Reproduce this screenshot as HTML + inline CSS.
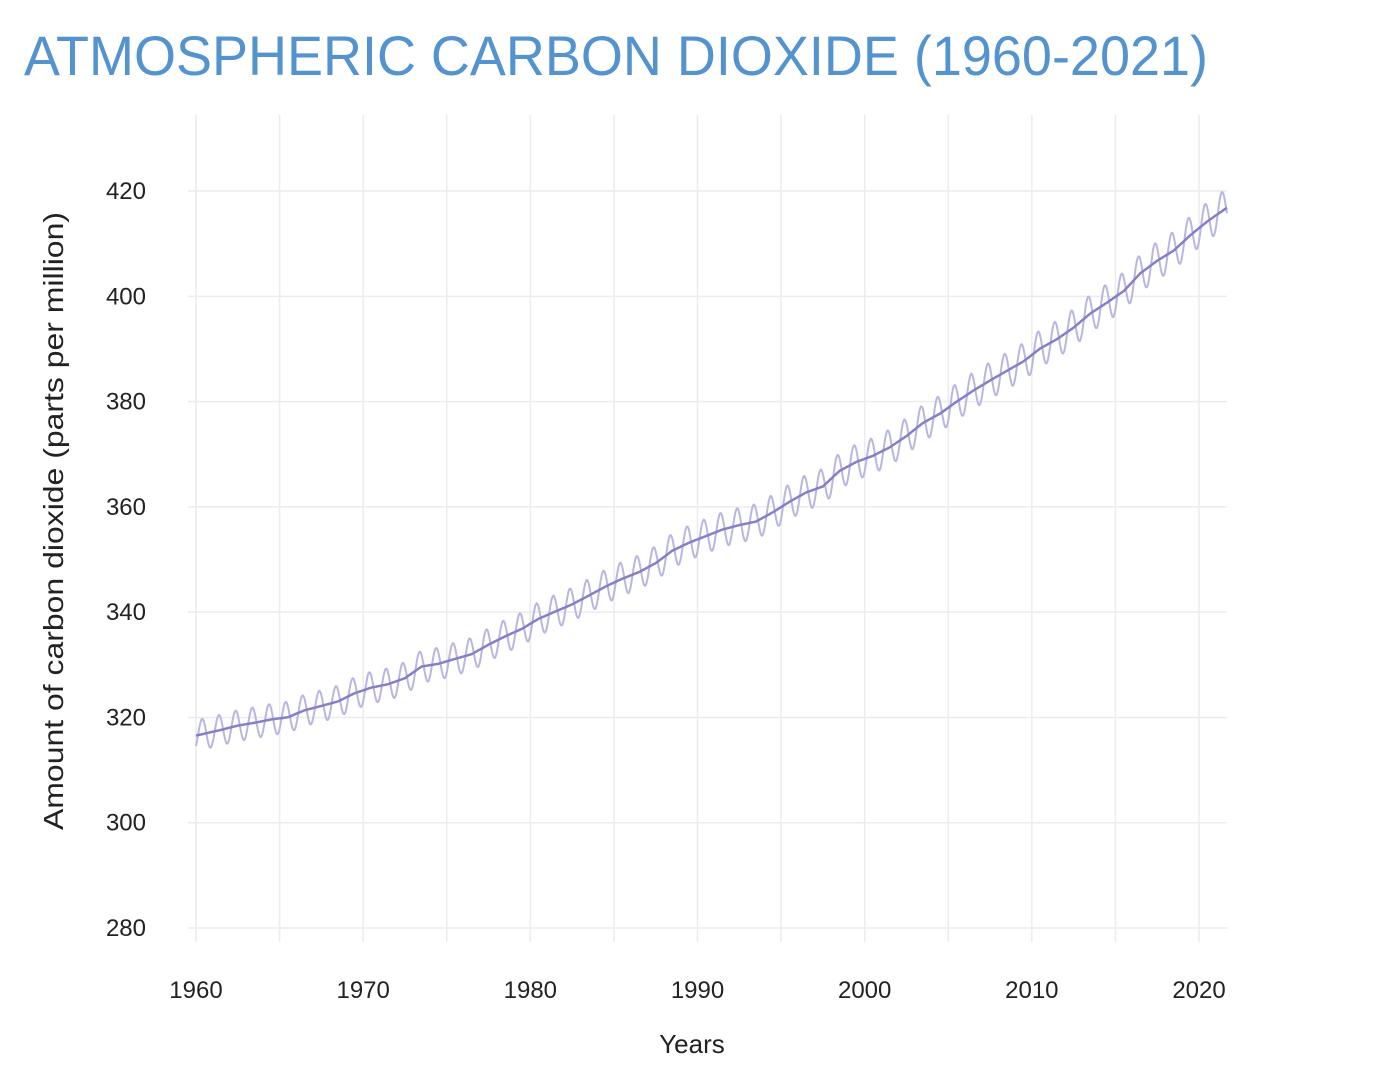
<!DOCTYPE html>
<html><head><meta charset="utf-8">
<style>
body{margin:0;background:#fff;width:1374px;height:1082px;overflow:hidden}
svg{display:block}
text{font-family:"Liberation Sans",sans-serif}
</style></head>
<body>
<svg id="s" width="1374" height="1082" xmlns="http://www.w3.org/2000/svg">
<text x="24" y="75" font-size="56" fill="#5393cf" textLength="1184" lengthAdjust="spacingAndGlyphs">ATMOSPHERIC CARBON DIOXIDE (1960-2021)</text>
<g id="grid" stroke="#ececec" stroke-width="1.5"></g>
<g id="labels" font-size="24" fill="#222"></g>
<text x="692" y="1053" font-size="26" fill="#222" text-anchor="middle">Years</text>
<text transform="translate(63,521) rotate(-90)" font-size="28" fill="#222" text-anchor="middle" textLength="618" lengthAdjust="spacingAndGlyphs">Amount of carbon dioxide (parts per million)</text>
<path id="season" fill="none" stroke="#b9b6e2" stroke-width="2"/>
<path id="trend" fill="none" stroke="#8580c6" stroke-width="2.5"/>
</svg>
<script>
var X=function(t){return 196+(t-1960)*16.717;};
var Y=function(v){return 928-(v-280)*5.264;};
var g=document.getElementById('grid'),l=document.getElementById('labels'),ns='http://www.w3.org/2000/svg';
function el(p,tag,a,txt){var e=document.createElementNS(ns,tag);for(var k in a)e.setAttribute(k,a[k]);if(txt)e.textContent=txt;p.appendChild(e);}
for(var y=1960;y<=2020;y+=5){el(g,'line',{x1:X(y),x2:X(y),y1:115,y2:942});}
for(var v=280;v<=420;v+=20){el(g,'line',{x1:188,x2:1227,y1:Y(v),y2:Y(v)});el(l,'text',{x:146,y:Y(v)+8,'text-anchor':'end'},String(v));}
for(var y=1960;y<=2020;y+=10){el(l,'text',{x:X(y),y:998,'text-anchor':'middle'},String(y));}
var a=[316.91,317.64,318.45,318.99,319.62,320.04,321.37,322.18,323.05,324.62,325.68,326.32,327.46,329.68,330.19,331.13,332.03,333.84,335.41,336.84,338.76,340.12,341.48,343.15,344.87,346.35,347.61,349.31,351.69,353.20,354.45,355.70,356.54,357.21,358.96,360.97,362.74,363.88,366.84,368.54,369.71,371.32,373.45,375.98,377.70,379.98,382.09,384.02,385.83,387.64,390.10,391.85,394.06,396.74,398.81,401.01,404.41,406.76,408.72,411.66,414.24,416.45];
function tr(t){var u=t-1960.5;if(u<=0)return a[0]+u*0.7;var i=Math.floor(u);if(i>=a.length-1)return a[a.length-1]+(u-a.length+1)*2.3;var f=u-i;return a[i]*(1-f)+a[i+1]*f;}
var ds='',dt='';
for(var t=1960;t<=2021.7;t+=1/24){
 var amp=2.9+(t-1960)*0.012;
 var s=tr(t)+amp*Math.cos(2*Math.PI*(t-1960-0.37));
 ds+=(ds?'L':'M')+X(t).toFixed(1)+','+Y(s).toFixed(1);
 dt+=(dt?'L':'M')+X(t).toFixed(1)+','+Y(tr(t)).toFixed(1);
}
document.getElementById('season').setAttribute('d',ds);
document.getElementById('trend').setAttribute('d',dt);
</script>
</body></html>
